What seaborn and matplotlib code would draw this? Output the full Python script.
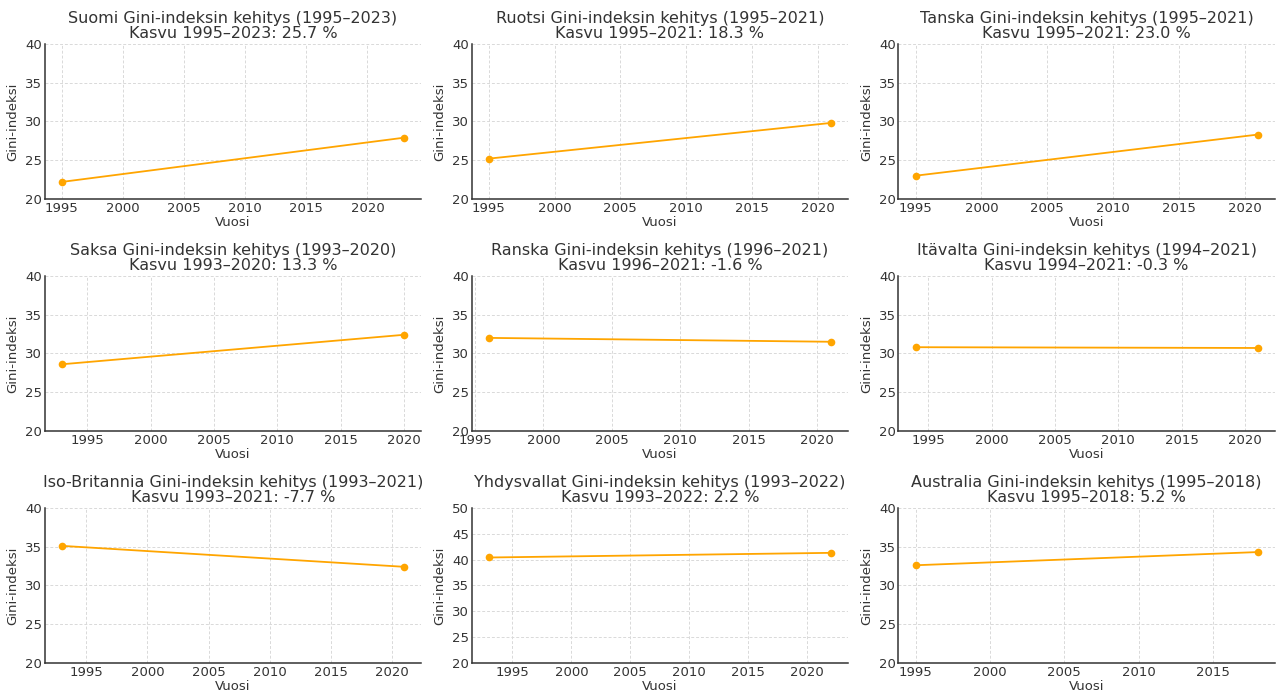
import matplotlib
matplotlib.use("Agg")
import matplotlib.pyplot as plt
from matplotlib.ticker import MultipleLocator
import seaborn as sns
import pandas as pd

countries = ["Suomi", "Ruotsi", "Tanska", "Saksa", "Ranska", "Itävalta",
             "Iso-Britannia", "Yhdysvallat", "Australia"]
start_years = [1995, 1995, 1995, 1993, 1996, 1994, 1993, 1993, 1995]
end_years = [2023, 2021, 2021, 2020, 2021, 2021, 2021, 2022, 2018]
start_values = [22.2, 25.2, 23.0, 28.6, 32.0, 30.8, 35.1, 40.4, 32.6]
end_values = [27.9, 29.8, 28.3, 32.4, 31.5, 30.7, 32.4, 41.3, 34.3]
growth_pct = ["25.7", "18.3", "23.0", "13.3", "-1.6", "-0.3", "-7.7", "2.2", "5.2"]
y_limits = [(20, 40)] * 7 + [(20, 50)] + [(20, 40)]

sns.set_style("whitegrid")
plt.rcParams["font.family"] = ["DejaVu Sans"]
text_color = "#333333"
plt.rcParams.update({
    "text.color": text_color,
    "axes.labelcolor": text_color,
    "xtick.color": text_color,
    "ytick.color": text_color,
    "axes.edgecolor": text_color,
})

fig, axes = plt.subplots(3, 3, figsize=(12.8, 6.95), dpi=100)
for i, ax in enumerate(axes.flat):
    df = pd.DataFrame({"Vuosi": [start_years[i], end_years[i]],
                       "Gini-indeksi": [start_values[i], end_values[i]]})
    sns.lineplot(data=df, x="Vuosi", y="Gini-indeksi", ax=ax, color="#FFA500",
                 marker="o", markersize=5.5, markeredgewidth=0, linewidth=1.3)
    ax.set_ylim(*y_limits[i])
    ax.yaxis.set_major_locator(MultipleLocator(5))
    ax.set_title(f"{countries[i]} Gini-indeksin kehitys ({start_years[i]}–{end_years[i]})\n"
                 f"Kasvu {start_years[i]}–{end_years[i]}: {growth_pct[i]} %",
                 fontsize=11.5, color=text_color, pad=4, linespacing=1.0)
    ax.set_xlabel("Vuosi", fontsize=9.5, labelpad=1)
    ax.set_ylabel("Gini-indeksi", fontsize=9.5, labelpad=4)
    ax.tick_params(labelsize=9.5, length=0, pad=2)
    ax.grid(True, linestyle=(0, (3, 2)), color="#d9d9d9", linewidth=0.7)
    for s in ["top", "right"]:
        ax.spines[s].set_visible(False)
    for s in ["left", "bottom"]:
        ax.spines[s].set_color(text_color)
        ax.spines[s].set_linewidth(1.1)

fig.subplots_adjust(left=0.035, right=0.996, top=0.937, bottom=0.046,
                    wspace=0.134, hspace=0.495)
fig.savefig("out.png", dpi=100)
